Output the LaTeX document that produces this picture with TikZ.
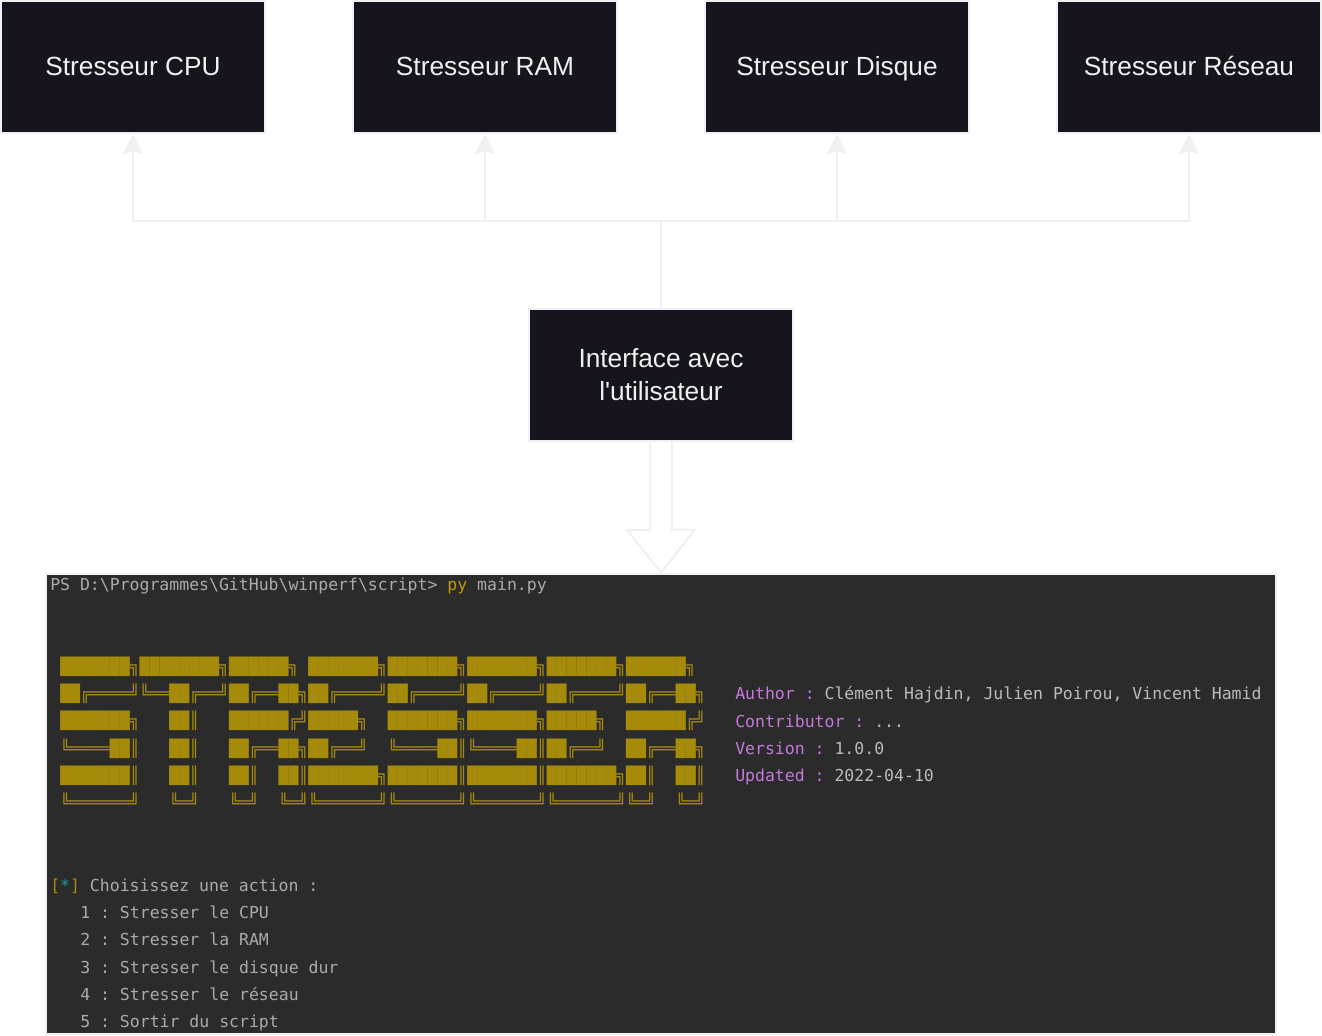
\documentclass[tikz,border=0pt]{standalone}
\usepackage{fontspec}
\newfontfamily\boxfont{Liberation Sans}
\setmonofont{DejaVu Sans Mono}
\usetikzlibrary{arrows.meta}
\definecolor{boxfill}{HTML}{18141D}
\definecolor{edgegrey}{HTML}{F0F0F0}
\definecolor{termback}{HTML}{2B2B2B}
\definecolor{termtext}{HTML}{ABABAB}
\definecolor{termlight}{HTML}{BBBBBB}
\definecolor{termgold}{HTML}{A68A0A}
\definecolor{termpy}{HTML}{C49A00}
\definecolor{termpurple}{HTML}{C678DD}
\definecolor{termteal}{HTML}{1E9A9A}
\tikzset{
  stressbox/.style={draw=edgegrey,fill=boxfill,text=edgegrey,line width=1.5pt,
    minimum width=198pt,minimum height=99pt,inner sep=0pt,align=center,
    text height=17pt,text depth=4pt,
    font=\boxfont\fontsize{19.7}{24.7}\selectfont},
  termline/.style={anchor=base west,inner sep=0pt,text=termtext,
    font=\ttfamily\fontsize{12.37}{14}\selectfont},
  bannerline/.style={termline,text=termgold,font=\ttfamily\bfseries\fontsize{12.37}{14}\selectfont},
  link/.style={draw=edgegrey,line width=1.5pt,-{Stealth[length=15pt,width=15pt,inset=2pt]}},
  hollow/.style={draw=edgegrey,line width=1.5pt,fill=white,line join=miter}
}
\begin{document}
\begin{tikzpicture}[x=0.75pt,y=-0.75pt]
  \useasboundingbox (0,0) rectangle (1322,1036);

  % Stressers
  \node[stressbox] (cpu) at (133,67) {Stresseur CPU};
  \node[stressbox] (ram) at (485,67) {Stresseur RAM};
  \node[stressbox] (disk) at (837,67) {Stresseur Disque};
  \node[stressbox] (net) at (1189,67) {Stresseur Réseau};

  % User interface
  \node[stressbox,text height=,text depth=] (iface) at (661,375) {Interface avec\\l'utilisateur};

  % Terminal
  \node[draw=edgegrey,fill=termback,line width=1.5pt,minimum width=922pt,minimum height=345pt,
    inner sep=0pt] (term) at (661,803.5) {};

  % Links to the stressers
  \coordinate (hub) at (661,221);
  \draw[draw=edgegrey,line width=1.5pt] (iface.north) -- (hub);
  \foreach \target in {cpu,ram,disk,net}
    \draw[link] (hub) -| (\target.south);

  % Hollow arrow down to the terminal
  \draw[hollow] (iface.south) ++(-11,0) -- ++(0,88) -- ++(-23,0) -- (term.north)
    -- ++(34,-43) -- ++(-23,0) -- ++(0,-88);

  % Prompt
  \node[termline] (prompt) at (50,590) {PS D:\textbackslash Programmes\textbackslash GitHub\textbackslash winperf\textbackslash script> {\color{termpy}py} main.py};

  % Banner
  \node[bannerline] (bannerA) at (60,672) {███████╗████████╗██████╗~███████╗███████╗███████╗███████╗██████╗};
  \node[bannerline] (bannerB) at (60,699.5) {██╔════╝╚══██╔══╝██╔══██╗██╔════╝██╔════╝██╔════╝██╔════╝██╔══██╗};
  \node[bannerline] (bannerC) at (60,726.5) {███████╗~~~██║~~~██████╔╝█████╗~~███████╗███████╗█████╗~~██████╔╝};
  \node[bannerline] (bannerD) at (60,754) {╚════██║~~~██║~~~██╔══██╗██╔══╝~~╚════██║╚════██║██╔══╝~~██╔══██╗};
  \node[bannerline] (bannerE) at (60,781.5) {███████║~~~██║~~~██║~~██║███████╗███████║███████║███████╗██║~~██║};
  \node[bannerline] (bannerF) at (60,808.5) {╚══════╝~~~╚═╝~~~╚═╝~~╚═╝╚══════╝╚══════╝╚══════╝╚══════╝╚═╝~~╚═╝};

  % Credits
  \node[termline,text=termlight] (author) at (735,699) {{\color{termpurple}Author :} Clément Hajdin, Julien Poirou, Vincent Hamid};
  \node[termline,text=termlight] (contrib) at (735,727) {{\color{termpurple}Contributor :} ...};
  \node[termline,text=termlight] (version) at (735,754) {{\color{termpurple}Version :} 1.0.0};
  \node[termline,text=termlight] (updated) at (735,781.5) {{\color{termpurple}Updated :} 2022-04-10};

  % Menu
  \node[termline] (menu) at (50,891) {{\color{termgold}[}{\color{termteal}*}{\color{termgold}]} Choisissez une action :};
  \node[termline] (itemA) at (80,918) {1 : Stresser le CPU};
  \node[termline] (itemB) at (80,945.5) {2 : Stresser la RAM};
  \node[termline] (itemC) at (80,973) {3 : Stresser le disque dur};
  \node[termline] (itemD) at (80,1000) {4 : Stresser le réseau};
  \node[termline] (itemE) at (80,1027.5) {5 : Sortir du script};
\end{tikzpicture}
\end{document}
